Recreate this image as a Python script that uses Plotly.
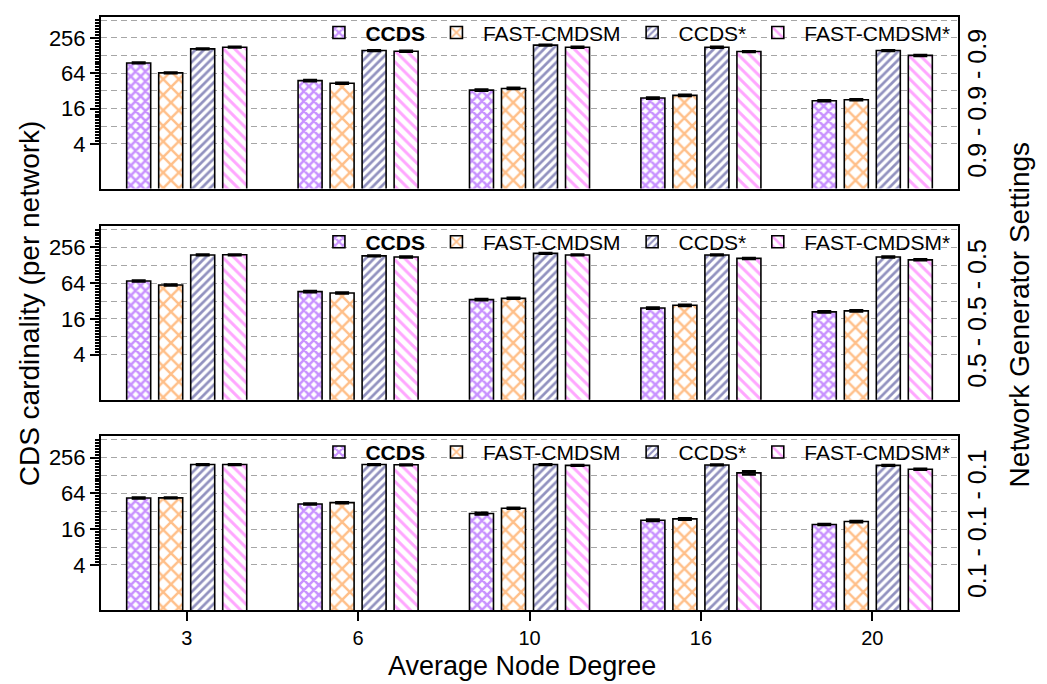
import plotly.graph_objects as go

degrees = ["3", "6", "10", "16", "20"]
series_names = ["<b>CCDS</b>", "FAST-CMDSM", "CCDS*", "FAST-CMDSM*"]
panel_labels = ["0.9 - 0.9 - 0.9", "0.5 - 0.5 - 0.5", "0.1 - 0.1 - 0.1"]

# setting 0.9 - 0.9 - 0.9
ccds_09 = [96, 48, 33, 24.2, 21.8]
fast_09 = [65, 43.4, 35.3, 26.9, 22.7]
ccdss_09 = [167, 156, 193, 178, 156]
fasts_09 = [178, 152, 178, 150, 129]
# setting 0.5 - 0.5 - 0.5
ccds_05 = [69.6, 46, 33.8, 24.4, 21]
fast_05 = [59.7, 43.7, 35.5, 27.1, 21.8]
ccdss_05 = [191, 184, 203, 191, 176]
fasts_05 = [192, 176, 191, 167, 158]
# setting 0.1 - 0.1 - 0.1
ccds_01 = [53.4, 42.4, 29.3, 22.6, 19.2]
fast_01 = [53.8, 44.7, 36, 23.8, 21.5]
ccdss_01 = [196, 196, 196, 193, 190]
fasts_01 = [196, 194, 190, 142, 163]

# error (absolute)
err_ccds_09 = [1.5, 1.0, 0.7, 0.6, 0.5]
err_fast_09 = [1.0, 0.9, 0.8, 0.6, 0.5]
err_ccdss_09 = [2.5, 2.5, 3, 3, 2.5]
err_fasts_09 = [2.5, 2.5, 3, 2.5, 2.5]
err_ccds_05 = [1.2, 1.0, 0.7, 0.6, 0.5]
err_fast_05 = [1.0, 1.0, 0.7, 0.6, 0.5]
err_ccdss_05 = [3, 3, 3, 3, 3]
err_fasts_05 = [3, 3, 3, 3, 3]
err_ccds_01 = [1.0, 0.9, 1.0, 0.6, 0.4]
err_fast_01 = [1.0, 0.9, 0.8, 0.7, 0.5]
err_ccdss_01 = [3, 3, 3, 3, 3]
err_fasts_01 = [3, 3, 3, 9, 3]

panels = [
    [ccds_09, fast_09, ccdss_09, fasts_09],
    [ccds_05, fast_05, ccdss_05, fasts_05],
    [ccds_01, fast_01, ccdss_01, fasts_01],
]
panel_errs = [
    [err_ccds_09, err_fast_09, err_ccdss_09, err_fasts_09],
    [err_ccds_05, err_fast_05, err_ccdss_05, err_fasts_05],
    [err_ccds_01, err_fast_01, err_ccdss_01, err_fasts_01],
]

patterns = [
    dict(shape="x", fgcolor="#9124FF", bgcolor="white", size=7, solidity=0.6),
    dict(shape="x", fgcolor="#FF8014", bgcolor="white", size=11, solidity=0.4),
    dict(shape="/", fgcolor="#24247F", bgcolor="white", size=6, solidity=0.45),
    dict(shape="\\", fgcolor="#FF4DFF", bgcolor="white", size=8, solidity=0.38),
]

FONT = "Liberation Sans, Arial, sans-serif"
domains = [[0.7107, 1.0], [0.3545, 0.6472], [0.0, 0.2926]]
yrange = [-0.158, 2.765]
major_vals = [4, 8, 16, 32, 64, 128, 256, 512]
major_text = ["4", "", "16", "", "64", "", "256", ""]
minor_vals = [4 * 2 ** (k / 6) for k in range(0, 43)]

fig = go.Figure()
legend_ids = ["legend", "legend2", "legend3"]
for p in range(3):
    xa = "x" if p == 0 else f"x{p+1}"
    ya = "y" if p == 0 else f"y{p+1}"
    for s in range(4):
        fig.add_trace(go.Bar(
            x=degrees, y=panels[p][s], name=series_names[s],
            xaxis=xa, yaxis=ya, legend=legend_ids[p],
            marker=dict(color="white", pattern=patterns[s],
                        line=dict(color="black", width=1.6)),
            error_y=dict(type="data", array=panel_errs[p][s], color="black",
                         thickness=2.5, width=7),
        ))

layout = dict(
    width=1047, height=684,
    margin=dict(l=101, r=89, t=12, b=74),
    paper_bgcolor="white", plot_bgcolor="white",
    font=dict(family=FONT, color="black", size=20),
    barmode="group", bargap=0.253, bargroupgap=0.25,
)
for p in range(3):
    xk = "xaxis" if p == 0 else f"xaxis{p+1}"
    yk = "yaxis" if p == 0 else f"yaxis{p+1}"
    ya = "y" if p == 0 else f"y{p+1}"
    xa = "x" if p == 0 else f"x{p+1}"
    layout[xk] = dict(
        domain=[0, 1], anchor=ya, type="category", range=[-0.5, 4.5],
        showline=True, linecolor="black", linewidth=2, mirror=True,
        showgrid=False, ticks="outside" if p == 2 else "",
        ticklen=9, tickwidth=2, tickcolor="black",
        showticklabels=(p == 2), tickfont=dict(size=20),
    )
    layout[yk] = dict(
        domain=domains[p], anchor=xa, type="log", range=yrange,
        showline=True, linecolor="black", linewidth=2, mirror=True,
        tickmode="array", tickvals=major_vals, ticktext=major_text,
        ticks="outside", ticklen=9, tickwidth=2, tickcolor="black",
        tickfont=dict(size=22),
        showgrid=True, gridcolor="#A6A6A6", gridwidth=1.3, griddash="6px,4px",
        minor=dict(tickmode="array", tickvals=minor_vals, ticks="outside",
                   ticklen=4, tickwidth=1.5, tickcolor="black", showgrid=False),
        zeroline=False,
    )
    rk = f"yaxis{p+4}"
    layout[rk] = dict(
        overlaying=ya, side="right", anchor=xa, type="log", range=yrange,
        showline=False, showgrid=False, showticklabels=False,
        tickmode="array", tickvals=major_vals,
        ticks="inside", ticklen=9, tickwidth=2, tickcolor="black",
        minor=dict(tickmode="array", tickvals=minor_vals, ticks="inside",
                   ticklen=4, tickwidth=1.5, tickcolor="black", showgrid=False),
        zeroline=False,
    )
    lk = legend_ids[p]
    layout[lk] = dict(
        orientation="h", x=0.997, xanchor="right",
        y=domains[p][1] - 0.0268, yanchor="middle",
        bgcolor="rgba(0,0,0,0)", font=dict(size=21, family=FONT),
        itemwidth=43, tracegroupgap=0,
    )

fig.update_layout(**layout)

annotations = [
    dict(text="CDS cardinality (per network)", xref="paper", yref="paper",
         x=-0.083, y=0.517, textangle=-90, showarrow=False,
         font=dict(size=28), xanchor="center", yanchor="middle"),
    dict(text="Average Node Degree", xref="paper", yref="paper",
         x=0.491, y=-0.095, showarrow=False, font=dict(size=27),
         xanchor="center", yanchor="middle"),
    dict(text="Network Generator Settings", xref="paper", yref="paper",
         x=1.072, y=0.498, textangle=-90, showarrow=False,
         font=dict(size=28), xanchor="center", yanchor="middle"),
]
for p in range(3):
    annotations.append(dict(
        text=panel_labels[p], xref="paper", yref="paper",
        x=1.022, y=(domains[p][0] + domains[p][1]) / 2, textangle=-90,
        showarrow=False, font=dict(size=25), xanchor="center", yanchor="middle"))
fig.update_layout(annotations=annotations)

fig.write_html("out.html")
